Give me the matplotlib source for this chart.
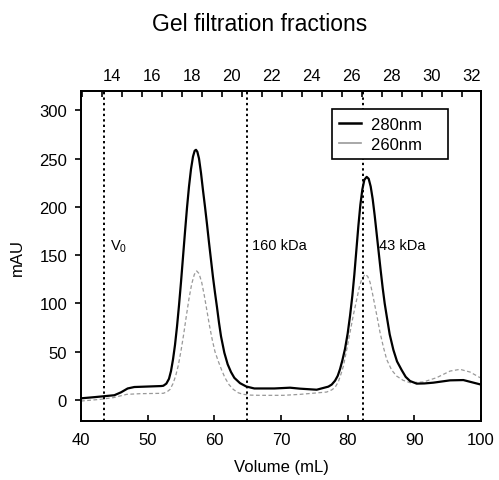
import matplotlib
matplotlib.use("Agg")
import matplotlib.pyplot as plt
from matplotlib.lines import Line2D

plt.rcParams['font.family'] = ['Liberation Sans', 'DejaVu Sans']

# 280 nm trace (volume mL, mAU)
vol_280 = [40, 42, 43.5, 45, 46, 47, 48, 50, 52, 52.35, 52.8, 53.2, 53.5, 53.8,
           54.1, 54.4, 54.7, 55.0, 55.3, 55.6, 55.9, 56.2, 56.5, 56.8, 57.05,
           57.25, 57.45, 57.7, 58.0, 58.3, 58.6, 58.9, 59.2, 59.5, 59.8, 60.1,
           60.4, 60.7, 61.0, 61.5, 62.0, 62.5, 63.0, 63.85, 64.8, 66, 69, 71.35,
           72.85, 75.35, 77.1, 77.6, 78.1, 78.5, 78.85, 79.2, 79.6, 80.0, 80.35,
           80.7, 81.0, 81.3, 81.6, 81.9, 82.2, 82.5, 82.85, 83.15, 83.45, 83.75,
           84.05, 84.35, 84.65, 84.95, 85.25, 85.55, 85.85, 86.3, 86.85, 87.4,
           88.1, 88.7, 89.35, 90.35, 91.5, 92.85, 95.35, 97.35, 100]
mau_280 = [1.8, 3, 4, 5, 8, 12, 13.5, 14, 14.5, 14.8, 17, 22, 30, 42,
           57, 76, 98, 122, 148, 174, 199, 221, 239, 252, 258,
           259, 257, 250, 235, 217, 200, 182, 163, 145, 127, 111,
           96, 80, 66, 49, 37, 29, 23, 17.5, 14, 12, 12, 12.8,
           11.8, 10.7, 13.9, 16, 20, 25, 32, 41, 53, 69, 87,
           108, 130, 155, 180, 202, 218, 228, 231, 229, 221, 208,
           191, 172, 153, 134, 116, 100, 87, 68, 52, 40,
           31, 24, 19.7, 17, 17.2, 18, 20.4, 20.7, 16]

# 260 nm trace
vol_260 = [40, 42.85, 44.85, 46.85, 48.85, 52.35, 52.9, 53.35, 53.8, 54.2, 54.6,
           55.0, 55.4, 55.8, 56.2, 56.6, 57.0, 57.35, 57.7, 58.1, 58.5, 58.9,
           59.3, 59.7, 60.1, 60.6, 61.1, 61.6, 62.2, 62.85, 63.6, 64.35, 65.5,
           66.85, 70.35, 72.85, 76.85, 77.6, 78.1, 78.6, 79.0, 79.35, 79.85,
           80.35, 80.85, 81.35, 81.75, 82.1, 82.6, 83.0, 83.35, 83.7, 84.1,
           84.5, 84.85, 85.35, 85.85, 86.6, 87.35, 88.3, 89.35, 91.35, 93.35,
           95.35, 96.85, 98.35, 99.85]
mau_260 = [-1, 0.7, 2.5, 5.9, 6.6, 7, 8.5, 11, 17, 25, 36,
           51, 68, 87, 105, 120, 130, 133.6, 131, 122, 108, 92,
           76, 62, 50, 40, 31, 23, 16, 11, 7.5, 5.9, 5.1,
           4.9, 4.9, 5.9, 8.3, 10.5, 13, 19, 27, 35, 52,
           70, 88, 104, 117, 125, 130.2, 128, 122, 111, 97,
           83, 70, 55, 42, 31, 24.8, 20.5, 18, 18.7, 23.2,
           30, 31.8, 29, 23.2]

# reference markers
marker_vol = [43.5, 64.85, 82.35]
marker_text = ['V$_{\\mathregular{0}}$', '160 kDa', '43 kDa']
marker_text_x = [44.4, 65.6, 84.7]

# fractions: 3 mL each, fraction n starts at 3n + 1.1 mL
frac_labels = list(range(14, 33, 2))
frac_all = list(range(13, 34))

fig = plt.figure(figsize=(4.99, 4.81), dpi=100)
ax = fig.add_axes([0.1623, 0.122, 0.8017, 0.687])

ax.plot(vol_260, mau_260, color='#999999', lw=0.9, ls=(0, (3, 2)))
ax.plot(vol_280, mau_280, color='black', lw=1.6)

for v, t, tx in zip(marker_vol, marker_text, marker_text_x):
    ax.axvline(v, color='black', lw=1.4, ls=(0, (1.2, 1.6)))
    ax.text(tx, 160, t, fontsize=10.5, va='center', ha='left')

ax.set_xlim(40, 100)
ax.set_ylim(-22, 320)
ax.set_xticks([40, 50, 60, 70, 80, 90, 100])
ax.set_yticks([0, 50, 100, 150, 200, 250, 300])
ax.tick_params(axis='x', direction='in', length=4, width=1.2, labelsize=12, pad=8)
ax.tick_params(axis='y', direction='out', length=4, width=1.2, labelsize=12, pad=6)
for s in ax.spines.values():
    s.set_linewidth(1.3)
ax.set_xlabel('Volume (mL)', fontsize=12, labelpad=8)
ax.set_ylabel('mAU', fontsize=12, labelpad=10)

top = ax.twiny()
top.set_xlim(ax.get_xlim())
top.set_xticks([3 * n + 1.1 + 1.5 for n in frac_labels])
top.set_xticklabels([str(n) for n in frac_labels])
top.set_xticks([3 * n + 1.1 for n in frac_all if 40 <= 3 * n + 1.1 <= 100], minor=True)
top.tick_params(axis='x', which='major', length=0, labelsize=12, pad=6)
top.tick_params(axis='x', which='minor', direction='in', length=4, width=1.2)
for s in top.spines.values():
    s.set_linewidth(1.3)

handles = [Line2D([], [], color='black', lw=1.8),
           Line2D([], [], color='#999999', lw=1.2)]
leg = ax.legend(handles, ['280nm    ', '260nm    '], loc='upper left',
                bbox_to_anchor=(0.627, 0.945), borderaxespad=0, fontsize=12,
                fancybox=False, framealpha=1, edgecolor='black',
                handlelength=1.3, handletextpad=0.6, borderpad=0.45,
                labelspacing=0.3)
leg.get_frame().set_linewidth(1.2)

fig.suptitle('Gel filtration fractions', fontsize=16.5, x=0.52, y=0.972)

fig.savefig('out.png', dpi=100)
